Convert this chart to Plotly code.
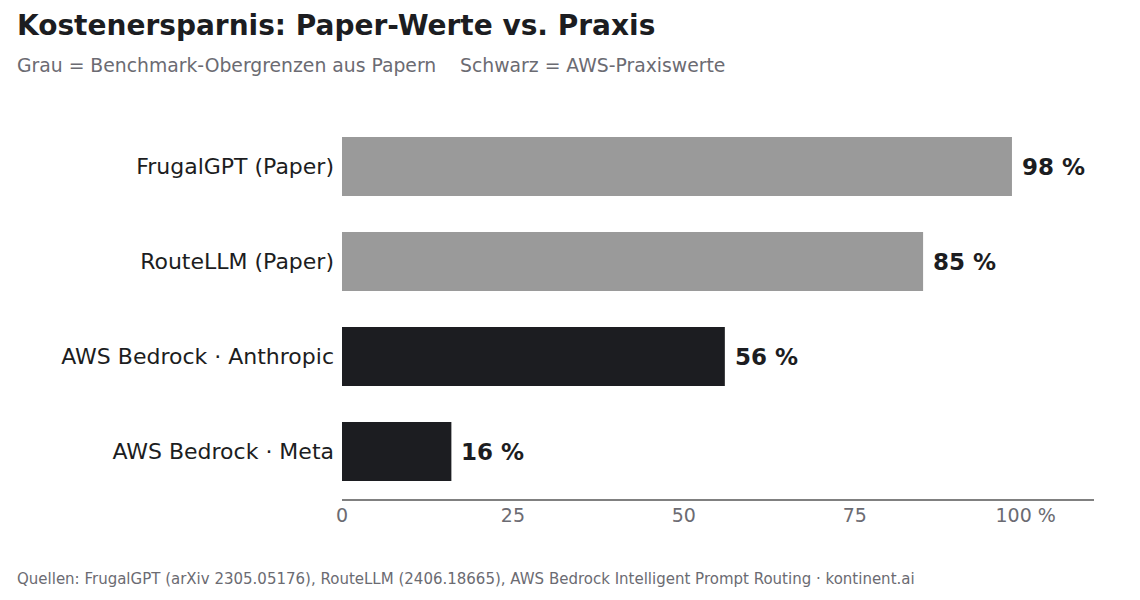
import plotly.graph_objects as go

# Daten (von oben nach unten)
labels = ["FrugalGPT (Paper)", "RouteLLM (Paper)", "AWS Bedrock · Anthropic", "AWS Bedrock · Meta"]
savings = [98, 85, 56, 16]
source = ["paper", "paper", "aws", "aws"]
tick_vals = [0, 25, 50, 75, 100]
tick_text = ["0", "25", "50", "75", "100 %"]

GREY = "#9a9a9a"
DARK = "#1c1d21"
MUTED = "#6b6b72"
FONT = "DejaVu Sans"

colors = [GREY if s == "paper" else DARK for s in source]

fig = go.Figure(go.Bar(
    x=savings, y=labels, orientation="h",
    marker=dict(color=colors, line=dict(width=0)),
    width=0.62, hoverinfo="skip",
))

# Werte rechts neben den Balken
for lab, v in zip(labels, savings):
    fig.add_annotation(x=v, y=lab, text=f"<b>{v} %</b>", showarrow=False,
                       xanchor="left", xshift=8,
                       font=dict(family=FONT, size=23, color=DARK))

# die Seite hat 8 px Rand -> Ränder entsprechend verschoben
# Plotbereich auf der Seite: x 342..1094, y 119..499
fig.update_layout(
    width=1140, height=600,
    margin=dict(l=334, r=54, t=111, b=109),
    plot_bgcolor="white", paper_bgcolor="white",
    showlegend=False,
    font=dict(family=FONT),
    title=dict(text="<b>Kostenersparnis: Paper-Werte vs. Praxis</b>",
               x=9 / 1140, xanchor="left", xref="container",
               y=1 - 17 / 600, yanchor="middle", yref="container",
               font=dict(family=FONT, size=28, color=DARK)),
    xaxis=dict(range=[0, 110], tickvals=tick_vals, ticktext=tick_text,
               showgrid=False, zeroline=False, showline=True,
               linecolor="#808080", linewidth=2, ticks="",
               ticklabelstandoff=-2,
               tickfont=dict(family=FONT, size=19, color=MUTED), fixedrange=True),
    yaxis=dict(categoryorder="array", categoryarray=labels[::-1],
               showgrid=False, zeroline=False, showline=False, ticks="",
               ticklabelstandoff=7,
               tickfont=dict(family=FONT, size=22, color=DARK), fixedrange=True),
)

fig.add_annotation(text="Grau = Benchmark-Obergrenzen aus Papern    Schwarz = AWS-Praxiswerte",
                   xref="paper", yref="paper", x=(15 - 342) / 752, y=(499 - 65) / 380,
                   xanchor="left", yanchor="middle", showarrow=False,
                   font=dict(family=FONT, size=18.8, color=MUTED))
fig.add_annotation(text="Quellen: FrugalGPT (arXiv 2305.05176), RouteLLM (2406.18665), "
                        "AWS Bedrock Intelligent Prompt Routing · kontinent.ai",
                   xref="paper", yref="paper", x=(15 - 342) / 752, y=(499 - 579) / 380,
                   xanchor="left", yanchor="middle", showarrow=False,
                   font=dict(family=FONT, size=15, color=MUTED))

fig.write_html("out.html")
